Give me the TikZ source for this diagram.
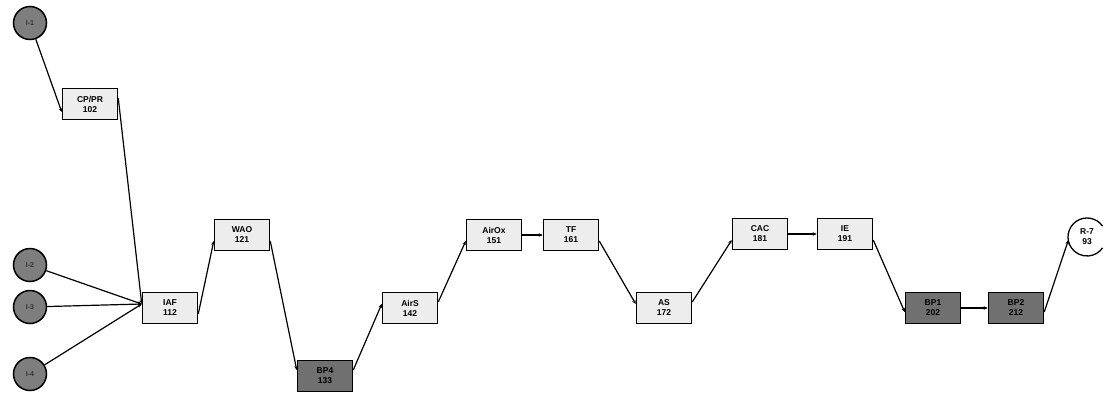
\documentclass[tikz,border=0pt]{standalone}
\usepackage{fontspec}
\setmainfont{Liberation Sans}
\usetikzlibrary{arrows.meta}
\definecolor{lightfill}{HTML}{EDEDED}
\definecolor{darkfill}{HTML}{707070}
\definecolor{srcfill}{HTML}{7E7E7E}
\begin{document}
\begin{tikzpicture}[x=1pt,y=-1pt,
  proc/.style={draw=black, line width=1.5pt, fill=lightfill, minimum width=55pt, minimum height=31pt,
    inner sep=0pt, align=center, font=\fontsize{8.5}{10}\selectfont\bfseries},
  procdark/.style={proc, fill=darkfill},
  source/.style={circle, draw=black, line width=1.5pt, fill=srcfill, minimum size=33pt, inner sep=0pt,
    font=\fontsize{7}{8}\selectfont\bfseries, text=black!80},
  flow/.style={draw=black, line width=1.2pt, -{Stealth[length=4pt,width=3.5pt]}}
]
\useasboundingbox (0,0) rectangle (1112,397);

% inputs
\node[source] (i1) at (30,23)  {I-1};
\node[source] (i2) at (30,265) {I-2};
\node[source] (i3) at (30,307) {I-3};
\node[source] (i4) at (30,374) {I-4};

% process units
\node[proc]     (cp)   at (90,104)  {CP/PR\\102};
\node[proc]     (iaf)  at (170,308) {IAF\\112};
\node[proc]     (wao)  at (242,235) {WAO\\121};
\node[procdark] (bp4)  at (325,376) {BP4\\133};
\node[proc]     (airs) at (410,308) {AirS\\142};
\node[proc]     (airox) at (494,235) {AirOx\\151};
\node[proc]     (tf)   at (571,235) {TF\\161};
\node[proc]     (as)   at (664,308) {AS\\172};
\node[proc]     (cac)  at (760,234) {CAC\\181};
\node[proc]     (ie)   at (845,234) {IE\\191};
\node[procdark] (bp1)  at (933,308) {BP1\\202};
\node[procdark] (bp2)  at (1016,308) {BP2\\212};

% recycle node: label inside an open ring
\node[font=\fontsize{8.5}{10}\selectfont\bfseries, align=center, inner sep=0pt] (r7) at (1087,237) {R-7\\93};
\draw[line width=1.3pt] ([shift={(35:19pt)}]r7.center) arc[start angle=35, end angle=325, radius=19pt];

% flows
\draw[flow] (i1) -- ([yshift=-8pt]cp.west);
\draw[flow] ([yshift=6pt]cp.east) -- ([yshift=4pt]iaf.west);
\draw[flow] (i2) -- ([yshift=4pt]iaf.west);
\draw[flow] (i3) -- ([yshift=4pt]iaf.west);
\draw[flow] (i4) -- ([yshift=4pt]iaf.west);
\draw[flow] ([yshift=-6pt]iaf.east) -- ([yshift=-6pt]wao.west);
\draw[flow] ([yshift=-6pt]wao.east) -- ([yshift=6pt]bp4.west);
\draw[flow] ([yshift=6pt]bp4.east) -- ([yshift=4pt]airs.west);
\draw[flow] ([yshift=6pt]airs.east) -- ([yshift=-6pt]airox.west);
\draw[flow] (airox.east) -- (tf.west);
\draw[flow] ([yshift=-6pt]tf.east) -- ([yshift=4pt]as.west);
\draw[flow] ([yshift=6pt]as.east) -- ([yshift=-6pt]cac.west);
\draw[flow] (cac.east) -- (ie.west);
\draw[flow] ([yshift=-6pt]ie.east) -- ([yshift=-4pt]bp1.west);
\draw[flow] (bp1.east) -- (bp2.west);
\draw[flow] ([yshift=-4pt]bp2.east) -- ([shift={(190:19pt)}]r7.center);
\end{tikzpicture}
\end{document}
